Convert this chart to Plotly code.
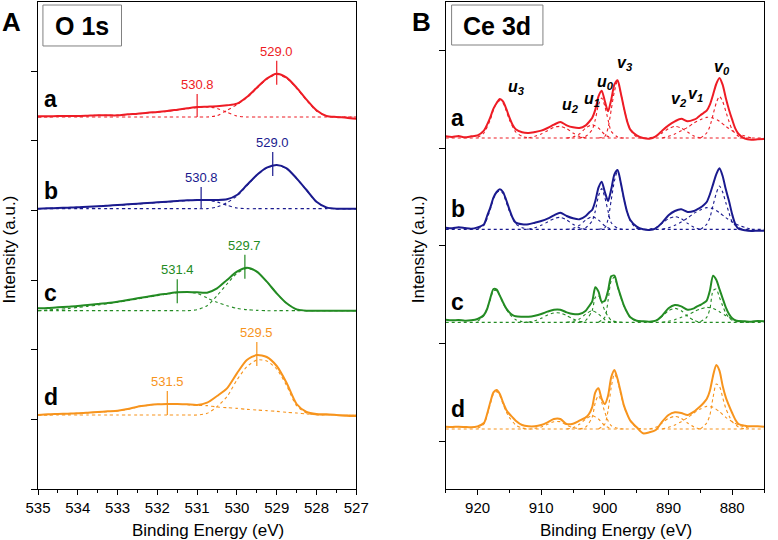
import plotly.graph_objects as go

# ---------------- Panel A : O 1s ----------------
energy_o1s = [535.0, 534.75, 534.5, 534.25, 534.0, 533.75, 533.5, 533.25, 533.0,
              532.75, 532.5, 532.25, 532.0, 531.75, 531.5, 531.25, 531.0, 530.75,
              530.5, 530.25, 530.0, 529.75, 529.5, 529.25, 529.0, 528.75, 528.5,
              528.25, 528.0, 527.75, 527.5, 527.25, 527.0]

o1s_a = [2, 2, 3, 3, 3, 4, 5, 5, 5, 8, 10, 13, 15, 18, 22, 26, 30, 31, 32, 35, 40,
         60, 88, 115, 130, 118, 88, 52, 20, 3, 0, -2, -5]
o1s_a_fit1 = [0, 1, 2, 2, 3, 4, 5, 5, 5, 7, 9, 12, 14, 17, 21, 25, 28, 30, 26, 14, 3,
              0, 0, 0, 0, 0, 0, 0, 0, 0, 0, 0, 0]
o1s_a_fit2 = [0, 0, 0, 0, 0, 0, 0, 0, 0, 0, 0, 0, 0, 0, 0, 0, 0, 0, 4, 20, 37,
              58, 86, 113, 128, 116, 86, 50, 18, 3, 0, 0, 0]

o1s_b = [0, 1, 2, 3, 4, 6, 7, 9, 11, 13, 15, 17, 19, 21, 23, 25, 26, 26, 26, 28, 41,
         71, 101, 123, 131, 121, 91, 56, 21, 4, 0, 0, 0]
o1s_b_fit1 = [0, 1, 2, 3, 4, 5, 7, 9, 10, 12, 14, 16, 18, 20, 22, 24, 25, 25, 20, 10, 2,
              0, 0, 0, 0, 0, 0, 0, 0, 0, 0, 0, 0]
o1s_b_fit2 = [0, 0, 0, 0, 0, 0, 0, 0, 0, 0, 0, 0, 0, 0, 0, 0, 0, 0, 5, 18, 38,
              69, 100, 122, 130, 120, 90, 55, 20, 3, 0, 0, 0]

o1s_c = [7, 8, 10, 12, 14, 17, 20, 23, 27, 32, 37, 42, 47, 51, 55, 56, 55, 54, 67, 92, 117,
         129, 117, 87, 52, 22, 4, 0, 0, 0, 0, 0, 0]
o1s_c_fit1 = [0, 2, 4, 6, 10, 13, 17, 21, 25, 30, 35, 40, 45, 50, 54, 55, 52, 38, 25, 15, 7,
              3, 1, 0, 0, 0, 0, 0, 0, 0, 0, 0, 0]
o1s_c_fit2 = [0, 0, 0, 0, 0, 0, 0, 0, 0, 0, 0, 0, 0, 0, 0, 0, 3, 15, 45, 80, 112,
              127, 117, 87, 52, 22, 4, 0, 0, 0, 0, 0, 0]

o1s_d = [0, 2, 3, 4, 5, 7, 9, 11, 13, 18, 25, 29, 32, 33, 33, 32, 30, 37, 57, 80, 125,
         165, 180, 174, 147, 96, 33, 9, 3, 2, 0, -2, -3]
o1s_d_fit1 = [0, 0, 3, 3, 5, 6, 8, 10, 12, 17, 24, 29, 32, 32, 32, 31, 29, 28, 24, 22, 20,
              17, 15, 13, 11, 8, 6, 3, 1, 0, 0, 0, 0]
o1s_d_fit2 = [0, 0, 0, 0, 0, 0, 0, 0, 0, 0, 0, 0, 0, 0, 0, 0, 0, 5, 25, 55, 105,
              145, 165, 162, 138, 88, 28, 6, 0, 0, 0, 0, 0]

o1s_offsets = [1116, 841, 535, 222]
o1s_peak_pos = [[531.0, 529.0], [530.9, 529.1], [531.5, 529.8], [531.75, 529.5]]
o1s_peak_text = [["530.8", "529.0"], ["530.8", "529.0"], ["531.4", "529.7"], ["531.5", "529.5"]]

# ---------------- Panel B : Ce 3d ----------------
energy_ce3d = [925, 924, 923, 922, 921, 920, 919,
               918.5, 918, 917.5, 917, 916.5, 916, 915.5, 915, 914.5, 914,
               913, 912, 911, 910, 909, 908, 907, 906, 905, 904, 903,
               902.5, 902, 901.5, 901, 900.5, 900, 899.5, 899, 898.5, 898, 897.5, 897, 896.5, 896,
               895, 894, 893, 892, 891, 890, 889, 888, 887, 886,
               885.5, 885, 884.5, 884, 883.5, 883, 882.5, 882, 881.5, 881, 880.5, 880, 879.5, 879,
               878, 877, 876, 875]

ce_a = [5, 3, 6, 2, 5, 8, 22,
        40, 62, 88, 105, 117, 110, 88, 62, 40, 26,
        17, 15, 18, 22, 30, 40, 48, 38, 32, 30, 38,
        48, 60, 85, 125, 142, 110, 80, 115, 160, 173, 135, 90, 50, 25,
        8, 0, -2, 5, 22, 38, 50, 58, 50, 55,
        60, 68, 75, 82, 100, 130, 162, 180, 160, 120, 85, 55, 28, 12,
        -2, -5, -4, -3]
ce_b = [5, 3, 6, 4, 2, 6, 15,
        40, 65, 95, 112, 120, 112, 88, 60, 35, 20,
        15, 15, 20, 25, 32, 42, 50, 40, 33, 30, 40,
        50, 58, 85, 125, 143, 112, 85, 120, 165, 178, 140, 92, 52, 28,
        8, 0, -2, 3, 20, 42, 55, 60, 52, 55,
        60, 65, 72, 82, 105, 135, 165, 183, 160, 120, 85, 45, 15, 2,
        -3, -5, -4, -4]
ce_c = [8, 6, 7, 5, 6, 10, 22,
        40, 72, 100, 98, 80, 60, 42, 30, 22, 18,
        17, 17, 20, 25, 32, 38, 38, 30, 25, 25, 35,
        48, 62, 105, 92, 62, 65, 95, 138, 140, 108, 78, 50, 30, 15,
        5, 3, 2, 5, 20, 42, 52, 48, 38, 42,
        48, 52, 58, 65, 95, 140, 128, 100, 72, 45, 25, 12, 6, 4,
        3, 2, 4, 3]
ce_d = [7, 6, 7, 6, 5, 8, 18,
        45, 80, 110, 117, 105, 80, 58, 45, 35, 25,
        12, 8, 8, 12, 20, 30, 30, 15, 16, 25, 35,
        45, 65, 110, 122, 90, 75, 100, 155, 177, 150, 110, 70, 45, 25,
        5, -13, -10, -3, 22, 42, 50, 48, 42, 52,
        60, 68, 78, 90, 115, 160, 192, 175, 130, 95, 70, 48, 28, 15,
        10, 8, 8, 7]

ce_offsets = [1053, 779, 500, 180]

# fitted components (u3, u2, u1, u0, v3, v2, v1, v0)
ce_fit_energy = [
    [920, 919, 918, 917.5, 917, 916.5, 916, 915.5, 915, 914, 913, 912],
    [912, 911, 910, 909, 908, 907, 906, 905, 904, 903],
    [906, 905, 904, 903, 902, 901, 900, 899],
    [904, 903, 902, 901.5, 901, 900.5, 900, 899.5, 899, 898, 897],
    [901, 900, 899.5, 899, 898.5, 898, 897.5, 897, 896, 895, 894],
    [893, 892, 891, 890, 889, 888, 887, 886, 885],
    [891, 890, 889, 888, 887, 886, 885, 884, 883, 882, 881, 880, 879, 878, 877],
    [885, 884, 883.5, 883, 882.5, 882, 881.5, 881, 880.5, 880, 879, 878],
]
ce_a_fits = [
    [2, 15, 55, 85, 105, 112, 105, 82, 55, 18, 5, 0],
    [0, 5, 12, 22, 32, 35, 28, 15, 5, 0],
    [0, 3, 12, 30, 40, 30, 10, 0],
    [0, 5, 25, 55, 100, 120, 95, 55, 20, 3, 0],
    [0, 5, 30, 85, 140, 170, 135, 88, 25, 3, 0],
    [0, 5, 15, 28, 35, 30, 18, 6, 0],
    [0, 5, 12, 22, 32, 45, 55, 62, 60, 50, 35, 22, 12, 6, 0],
    [0, 15, 35, 70, 105, 125, 110, 80, 50, 25, 5, 0],
]
ce_b_fits = [
    [2, 12, 60, 92, 110, 115, 108, 82, 55, 16, 5, 0],
    [0, 5, 12, 22, 32, 36, 28, 15, 5, 0],
    [0, 3, 12, 28, 38, 28, 10, 0],
    [0, 5, 25, 55, 100, 122, 95, 55, 20, 3, 0],
    [0, 5, 30, 88, 145, 175, 140, 90, 25, 3, 0],
    [0, 5, 18, 32, 38, 32, 18, 6, 0],
    [0, 5, 12, 22, 34, 48, 58, 65, 62, 50, 35, 22, 12, 6, 0],
    [0, 15, 35, 72, 108, 130, 112, 80, 50, 22, 5, 0],
]
ce_c_fits = [
    [3, 20, 68, 95, 95, 80, 58, 40, 25, 8, 2, 0],
    [0, 5, 12, 22, 28, 28, 20, 10, 3, 0],
    [0, 3, 10, 25, 35, 25, 8, 0],
    [0, 6, 35, 75, 80, 60, 35, 18, 6, 1, 0],
    [0, 15, 65, 125, 135, 105, 75, 48, 15, 3, 0],
    [0, 5, 18, 35, 42, 35, 18, 6, 0],
    [0, 3, 8, 15, 22, 32, 40, 45, 42, 32, 20, 10, 4, 1, 0],
    [2, 15, 40, 95, 100, 75, 50, 28, 14, 6, 1, 0],
]
ce_d_fits = [
    [2, 15, 75, 105, 112, 100, 75, 52, 35, 12, 3, 0],
    [0, 2, 6, 14, 22, 22, 12, 4, 1, 0],
    [0, 4, 14, 30, 40, 30, 10, 0],
    [0, 6, 35, 80, 100, 80, 50, 25, 10, 2, 0],
    [0, 15, 55, 125, 165, 145, 105, 68, 25, 4, 0],
    [0, 5, 18, 32, 38, 32, 18, 6, 0],
    [0, 5, 12, 22, 34, 48, 60, 68, 65, 52, 35, 22, 12, 6, 0],
    [0, 18, 42, 95, 135, 128, 95, 62, 40, 22, 6, 0],
]

ce_peak_names = ["u", "u", "u", "u", "v", "v", "v", "v"]
ce_peak_index = ["3", "2", "1", "0", "3", "2", "1", "0"]
ce_label_x = [915.3, 906.8, 903.5, 901.3, 898.2, 889.8, 887.2, 883.0]
ce_label_y = [1197, 1142, 1161, 1212, 1267, 1159, 1175, 1257]

sample_names = ["a", "b", "c", "d"]
sample_colors = ["#EE1C25", "#1A1A8E", "#238B23", "#F7941D"]

FONT = "Liberation Sans, Arial, sans-serif"

fig = go.Figure()


def add_line(x, vals, off, color, xa, ya, dotted):
    fig.add_trace(go.Scatter(
        x=x, y=[v + off for v in vals], mode="lines",
        line=dict(color=color, width=1.1 if dotted else 2.0,
                  dash="dot" if dotted else "solid", shape="spline", smoothing=0.7),
        xaxis=xa, yaxis=ya, hoverinfo="skip", showlegend=False))


o1s_solid = [o1s_a, o1s_b, o1s_c, o1s_d]
o1s_fit1 = [o1s_a_fit1, o1s_b_fit1, o1s_c_fit1, o1s_d_fit1]
o1s_fit2 = [o1s_a_fit2, o1s_b_fit2, o1s_c_fit2, o1s_d_fit2]
ce_solid = [ce_a, ce_b, ce_c, ce_d]
ce_fits = [ce_a_fits, ce_b_fits, ce_c_fits, ce_d_fits]

shapes = []
annotations = []


def text(xref, yref, x, y, s, size, color="black", xa="center", ya="middle", **kw):
    d = dict(xref=xref, yref=yref, x=x, y=y, text=s, showarrow=False,
             xanchor=xa, yanchor=ya, font=dict(family=FONT, size=size, color=color))
    d.update(kw)
    annotations.append(d)


for i in range(4):
    col = sample_colors[i]
    off = o1s_offsets[i]
    add_line(energy_o1s, o1s_fit1[i], off, col, "x", "y", True)
    add_line(energy_o1s, o1s_fit2[i], off, col, "x", "y", True)
    add_line(energy_o1s, o1s_solid[i], off, col, "x", "y", False)
    # peak markers
    for xm, txt in zip(o1s_peak_pos[i], o1s_peak_text[i]):
        k = min(range(len(energy_o1s)), key=lambda j: abs(energy_o1s[j] - xm))
        yc = o1s_solid[i][k] + off
        shapes.append(dict(type="line", xref="x", yref="y", x0=xm, x1=xm,
                           y0=max(yc - 33, off), y1=yc + 39,
                           line=dict(color=col, width=1.2)))
        text("x", "y", xm, yc + 39, txt, 13, col, "center", "bottom")
    text("paper", "y", 0.0054, off, "<b>%s</b>" % sample_names[i], 23,
         "black", "left", "bottom", yshift=3)

    offb = ce_offsets[i]
    for fx, fy in zip(ce_fit_energy, ce_fits[i]):
        add_line(fx, fy, offb, col, "x2", "y2", True)
    add_line([energy_ce3d[0], energy_ce3d[-1]], [0, 0], offb, col, "x2", "y2", True)
    add_line(energy_ce3d, ce_solid[i], offb, col, "x2", "y2", False)
    text("paper", "y2", 0.5656, offb, "<b>%s</b>" % sample_names[i], 23,
         "black", "left", "bottom", yshift=5)

for nm, idx, lx, ly in zip(ce_peak_names, ce_peak_index, ce_label_x, ce_label_y):
    text("x2", "y2", lx, ly, "<b><i>%s</i></b><sub><b><i>%s</i></b></sub>" % (nm, idx), 16,
         xshift=9, yshift=3)

# panel letters, boxes, axis titles
text("paper", "paper", -0.0365, 0.959, "<b>A</b>", 26)
text("paper", "paper", 0.5277, 0.959, "<b>B</b>", 26)
text("paper", "paper", 0.0609, 0.9507, "<b>O 1s</b>", 25)
text("paper", "paper", 0.6319, 0.9507, "<b>Ce 3d</b>", 25)
text("paper", "paper", -0.0392, 0.491, "Intensity (a.u.)", 17, textangle=-90)
text("paper", "paper", 0.5237, 0.4928, "Intensity (a.u.)", 17, textangle=-90)
text("paper", "paper", 0.2341, -0.0842, "Binding Energy (eV)", 17)
text("paper", "paper", 0.7963, -0.0842, "Binding Energy (eV)", 17)

shapes += [
    dict(type="rect", xref="paper", yref="paper", x0=0.0068, x1=0.115, y0=0.9097, y1=0.9938,
         line=dict(color="#808080", width=1)),
    dict(type="rect", xref="paper", yref="paper", x0=0.5697, x1=0.6955, y0=0.9117, y1=0.9938,
         line=dict(color="#808080", width=1)),
]

axis_common = dict(showline=True, mirror=True, linecolor="black", linewidth=1.3,
                   showgrid=False, zeroline=False, ticks="outside", tickcolor="black",
                   tickfont=dict(family=FONT, size=15, color="black"))

fig.update_layout(
    width=778, height=540,
    margin=dict(l=38, r=1, t=2, b=51),
    paper_bgcolor="white", plot_bgcolor="white",
    showlegend=False,
    xaxis=dict(domain=[0, 0.4384], range=[535, 527], tick0=527, dtick=1, ticklen=5,
               minor=dict(dtick=0.5, ticklen=3, ticks="outside", tickcolor="black"),
               anchor="y", **axis_common),
    yaxis=dict(domain=[0, 1], range=[0, 1461], tick0=0, dtick=209, ticklen=6,
               showticklabels=False, anchor="x", **axis_common),
    xaxis2=dict(domain=[0.5616, 1], range=[925, 875], tick0=0, dtick=10, ticklen=5,
                minor=dict(dtick=5, ticklen=3, ticks="outside", tickcolor="black"),
                anchor="y2", **axis_common),
    yaxis2=dict(domain=[0, 1], range=[0, 1461], tick0=144, dtick=293, ticklen=6,
                showticklabels=False, anchor="x2", **axis_common),
    shapes=shapes,
    annotations=annotations,
)

fig.write_html("out.html", config={"displayModeBar": False},
               post_script="document.body.style.margin='0px';")
